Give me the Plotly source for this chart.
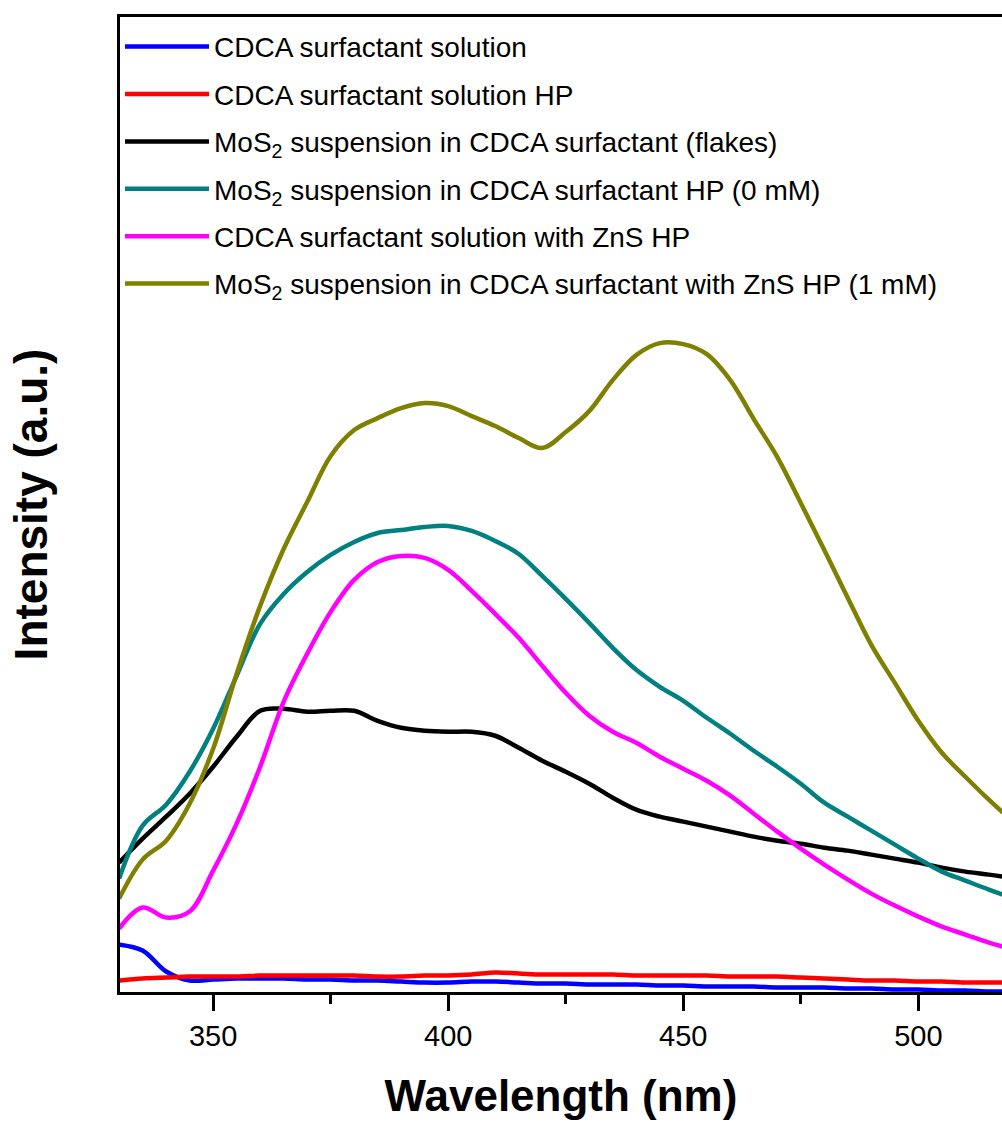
import plotly.graph_objects as go

wavelength = [330, 335, 340, 345, 350, 355, 360, 365, 370, 375, 380, 385, 390, 395,
              400, 405, 410, 415, 420, 425, 430, 435, 440, 445, 450, 455, 460, 465,
              470, 475, 480, 485, 490, 495, 500, 505, 510, 515, 518]

cdca_solution = [49, 43, 22, 13, 14, 15, 15, 15, 14, 14, 13, 13, 12, 11,
                 11, 12, 12, 11, 10, 10, 9, 9, 9, 8, 8, 7, 7, 7,
                 6, 6, 6, 5, 5, 4, 4, 3, 3, 2, 2]

cdca_solution_hp = [13, 15, 16, 17, 17, 17, 18, 18, 18, 18, 18, 17, 17, 18,
                    18, 19, 21, 20, 19, 19, 19, 19, 18, 18, 18, 18, 17, 17,
                    17, 16, 15, 14, 13, 13, 12, 12, 11, 11, 11]

mos2_flakes = [131, 155, 177, 200, 227, 257, 283, 285, 282, 283, 283, 273, 266, 263,
               262, 262, 258, 246, 233, 222, 210, 196, 184, 177, 172, 167, 162, 157,
               153, 150, 146, 143, 139, 135, 131, 126, 122, 119, 117]

mos2_hp_0mm = [115, 168, 189, 222, 265, 318, 370, 400, 422, 439, 452, 461, 464, 467,
               468, 463, 453, 440, 418, 395, 371, 346, 324, 307, 293, 276, 260, 243,
               227, 210, 191, 177, 163, 149, 135, 122, 113, 104, 99]

cdca_zns_hp = [65, 86, 76, 82, 123, 170, 227, 292, 340, 382, 414, 432, 438, 436,
               424, 403, 380, 356, 328, 301, 278, 262, 251, 237, 225, 213, 198, 180,
               162, 145, 129, 114, 100, 88, 77, 67, 59, 51, 47]

mos2_zns_hp_1mm = [95, 134, 153, 190, 245, 320, 388, 445, 492, 538, 564, 576, 586, 591,
                   588, 578, 568, 556, 546, 562, 583, 614, 639, 651, 650, 640, 614, 575,
                   537, 491, 444, 396, 349, 311, 273, 241, 217, 194, 181]

series_names = [
    "CDCA surfactant solution",
    "CDCA surfactant solution HP",
    "MoS<sub>2</sub> suspension in CDCA surfactant (flakes)",
    "MoS<sub>2</sub> suspension in CDCA surfactant HP (0 mM)",
    "CDCA surfactant solution with ZnS HP",
    "MoS<sub>2</sub> suspension in CDCA surfactant with ZnS HP (1 mM)",
]
series_values = [cdca_solution, cdca_solution_hp, mos2_flakes,
                 mos2_hp_0mm, cdca_zns_hp, mos2_zns_hp_1mm]
series_colors = ["#0000FF", "#FF0000", "#000000", "#008080", "#FF00FF", "#808000"]

x_tick_values = [350, 400, 450, 500]
x_tick_labels = ["350", "400", "450", "500"]

FONT = "Liberation Sans, Arial, Helvetica, sans-serif"

fig = go.Figure()
for i, (name, vals, col) in enumerate(zip(series_names, series_values, series_colors)):
    fig.add_trace(go.Scatter(
        x=wavelength, y=vals, mode="lines", name=name, legendgroup=f"g{i}",
        line=dict(color=col, width=4.5, shape="spline", smoothing=1.0),
    ))

fig.update_layout(
    width=1002, height=1124,
    margin=dict(l=119.5, r=0, t=16.5, b=131.5, pad=0),
    paper_bgcolor="white", plot_bgcolor="white",
    font=dict(family=FONT, color="black"),
    showlegend=True,
    legend=dict(
        x=0.0, y=0.995, xanchor="left", yanchor="top",
        font=dict(size=28, family=FONT, color="black"),
        bgcolor="rgba(0,0,0,0)", borderwidth=0,
        itemwidth=84, tracegroupgap=8,
    ),
)

fig.update_xaxes(
    range=[330.19, 517.8],
    showline=True, linewidth=3, linecolor="black", mirror=True,
    showgrid=False, zeroline=False,
    tickmode="array", tickvals=x_tick_values, ticktext=x_tick_labels,
    ticks="outside", ticklen=16, tickwidth=3, tickcolor="black",
    minor=dict(ticks="outside", ticklen=9, tickwidth=3, tickcolor="black",
               tickmode="array", tickvals=[375, 425, 475], showgrid=False),
    tickfont=dict(size=29, family=FONT, color="black"),
    title=dict(text="<b>Wavelength (nm)</b>", font=dict(size=44, family=FONT, color="black"),
               standoff=30),
)

fig.update_yaxes(
    range=[1.5, 977.5],
    showline=True, linewidth=3, linecolor="black", mirror=False,
    showgrid=False, zeroline=False,
    showticklabels=False, ticks="",
    title=dict(text="<b>Intensity (a.u.)</b>", font=dict(size=46, family=FONT, color="black"),
               standoff=55),
)

fig.write_html("out.html")
